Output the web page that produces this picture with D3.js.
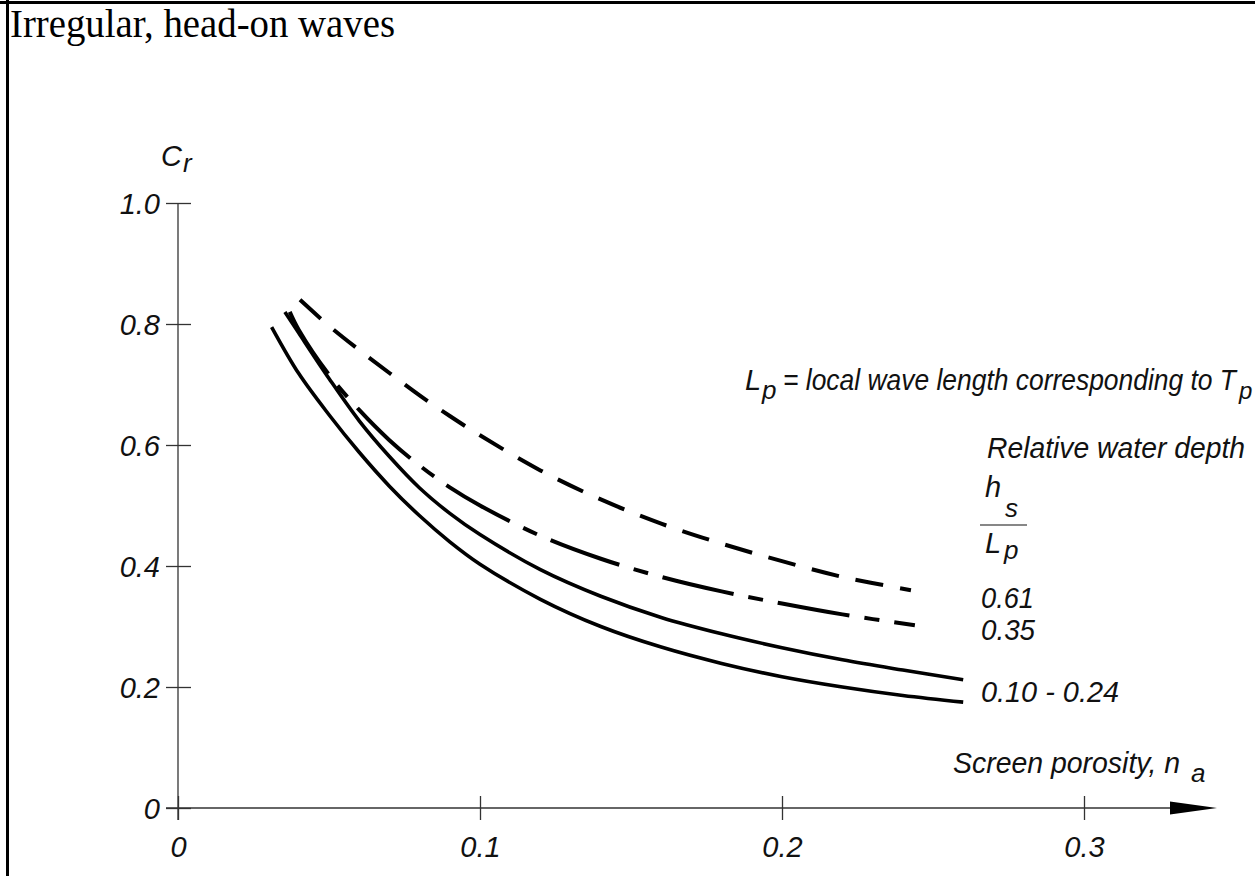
<!DOCTYPE html>
<html>
<head>
<meta charset="utf-8">
<script src="https://cdn.jsdelivr.net/npm/d3@7"></script>
<style>
  html, body { margin: 0; padding: 0; background: #fff; }
  svg { display: block; }
  .lab { font-family: "Liberation Sans", Arial, sans-serif; font-style: italic; fill: #111; }
</style>
</head>
<body>
<svg id="chart" width="1255" height="876"></svg>
<script>
// ---- data ----
const xTicks = [0, 0.1, 0.2, 0.3];
const xTickLabels = ["0", "0.1", "0.2", "0.3"];
const yTicks = [0, 0.2, 0.4, 0.6, 0.8, 1.0];
const yTickLabels = ["0", "0.2", "0.4", "0.6", "0.8", "1.0"];

// h_s/L_p = 0.10 - 0.24 (lower solid curve)
const nLow = [0.031, 0.04, 0.05, 0.06, 0.07, 0.08, 0.09, 0.10, 0.12, 0.14, 0.16, 0.18, 0.20, 0.22, 0.24, 0.26];
const cLow = [0.795, 0.718, 0.650, 0.588, 0.532, 0.483, 0.440, 0.403, 0.345, 0.300, 0.266, 0.239, 0.217, 0.200, 0.186, 0.175];
// h_s/L_p = 0.10 - 0.24 (upper solid curve)
const nHigh = [0.0354, 0.04, 0.05, 0.06, 0.07, 0.08, 0.09, 0.10, 0.12, 0.14, 0.16, 0.18, 0.20, 0.22, 0.24, 0.26];
const cHigh = [0.820, 0.785, 0.710, 0.640, 0.581, 0.529, 0.487, 0.452, 0.394, 0.350, 0.315, 0.288, 0.265, 0.245, 0.228, 0.212];
// h_s/L_p = 0.35 (dash-dot)
const n035 = [0.037, 0.04, 0.05, 0.06, 0.07, 0.08, 0.09, 0.10, 0.12, 0.14, 0.16, 0.18, 0.20, 0.22, 0.244];
const c035 = [0.820, 0.790, 0.716, 0.658, 0.608, 0.566, 0.530, 0.500, 0.450, 0.412, 0.382, 0.358, 0.338, 0.320, 0.302];
// h_s/L_p = 0.61 (dashed)
const n061 = [0.0404, 0.05, 0.06, 0.07, 0.08, 0.09, 0.10, 0.12, 0.14, 0.16, 0.18, 0.20, 0.22, 0.2427];
const c061 = [0.840, 0.797, 0.757, 0.719, 0.682, 0.648, 0.616, 0.558, 0.510, 0.470, 0.437, 0.408, 0.382, 0.360];

const seriesLabels = ["0.61", "0.35", "0.10 - 0.24"];

// ---- drawing ----
const svg = d3.select("#chart");
const x = d3.scaleLinear().domain([0, 0.3]).range([178, 1084]);
const y = d3.scaleLinear().domain([0, 1]).range([808, 203]);
const FF = "'Liberation Sans', Arial, sans-serif";

// frame
svg.append("line").attr("x1", 7.5).attr("x2", 7.5).attr("y1", 0).attr("y2", 876).attr("stroke", "#000").attr("stroke-width", 3);
svg.append("line").attr("x1", 0).attr("x2", 1255).attr("y1", 2.5).attr("y2", 2.5).attr("stroke", "#000").attr("stroke-width", 3);

// title
svg.append("text").attr("x", 10).attr("y", 37)
  .attr("font-family", "'Liberation Serif', 'Times New Roman', serif")
  .attr("font-size", 40).attr("fill", "#000")
  .attr("textLength", 385).attr("lengthAdjust", "spacingAndGlyphs")
  .text("Irregular, head-on waves");

// y axis
const yAxis = d3.axisLeft(y).tickValues(yTicks).tickSize(12).tickPadding(6)
  .tickFormat((d, i) => yTickLabels[i]);
const gy = svg.append("g").attr("transform", "translate(178,0)").call(yAxis);
gy.select(".domain").remove();
gy.selectAll(".tick line").attr("stroke", "#333").attr("stroke-width", 1.3).attr("x1", 13);
gy.selectAll(".tick text").attr("font-size", 29).attr("fill", "#111").attr("dy", "0.36em").attr("x", -18)
  .style("font-family", FF).style("font-style", "italic");
svg.append("line").attr("x1", 178).attr("x2", 178).attr("y1", y(1)).attr("y2", 820)
  .attr("stroke", "#333").attr("stroke-width", 1.3);

// x axis
const xAxis = d3.axisBottom(x).tickValues(xTicks).tickSize(12).tickPadding(16)
  .tickFormat((d, i) => xTickLabels[i]);
const gx = svg.append("g").attr("transform", "translate(0,808)").call(xAxis);
gx.select(".domain").remove();
gx.selectAll(".tick line").attr("stroke", "#333").attr("stroke-width", 1.3).attr("y1", -12);
gx.selectAll(".tick text").attr("font-size", 29).attr("fill", "#111")
  .style("font-family", FF).style("font-style", "italic");
svg.append("line").attr("x1", 166).attr("x2", 1172).attr("y1", 808).attr("y2", 808)
  .attr("stroke", "#333").attr("stroke-width", 1.3);
svg.append("path").attr("d", "M1170,801.5 L1217,808 L1170,814.5 Z").attr("fill", "#000");

// curves
const line = d3.line().x(d => x(d[0])).y(d => y(d[1])).curve(d3.curveCatmullRom.alpha(0.5));
const zip = (a, b) => a.map((v, i) => [v, b[i]]);
const curves = [
  { pts: zip(nLow, cLow), dash: null, w: 3.6 },
  { pts: zip(nHigh, cHigh), dash: null, w: 3.6 },
  { pts: zip(n035, c035), dash: "73,15,15,15", w: 4 },
  { pts: zip(n061, c061), dash: "28,17", w: 4 }
];
curves.forEach(c => {
  svg.append("path").attr("d", line(c.pts)).attr("fill", "none")
    .attr("stroke", "#000").attr("stroke-width", c.w)
    .attr("stroke-dasharray", c.dash);
});

// axis titles
const fs = 29;
const t1 = svg.append("text").attr("class", "lab").attr("font-size", fs).attr("x", 161).attr("y", 166);
t1.append("tspan").text("C");
t1.append("tspan").attr("x", 183).attr("y", 172).attr("font-size", 26).text("r");

const t2 = svg.append("text").attr("class", "lab").attr("font-size", fs).attr("x", 953).attr("y", 773);
t2.append("tspan").attr("textLength", 227).attr("lengthAdjust", "spacingAndGlyphs").text("Screen porosity, n");
t2.append("tspan").attr("x", 1191).attr("y", 782).attr("font-size", 26).text("a");

// legend texts
const t3 = svg.append("text").attr("class", "lab").attr("font-size", fs).attr("x", 745).attr("y", 390);
t3.append("tspan").text("L");
t3.append("tspan").attr("x", 762).attr("y", 399).attr("font-size", 26).text("p");
t3.append("tspan").attr("x", 783).attr("y", 390).attr("textLength", 453).attr("lengthAdjust", "spacingAndGlyphs")
  .text("= local wave length corresponding to T");
t3.append("tspan").attr("x", 1239).attr("y", 399).attr("font-size", 24).text("p");

svg.append("text").attr("class", "lab").attr("font-size", fs).attr("x", 987).attr("y", 458)
  .attr("textLength", 258).attr("lengthAdjust", "spacingAndGlyphs").text("Relative water depth");
const t4 = svg.append("text").attr("class", "lab").attr("font-size", fs).attr("x", 985).attr("y", 497);
t4.append("tspan").text("h");
t4.append("tspan").attr("x", 1005).attr("y", 517).attr("font-size", 26).text("s");
svg.append("line").attr("x1", 980).attr("x2", 1027).attr("y1", 525).attr("y2", 525).attr("stroke", "#111").attr("stroke-width", 1.2);
const t5 = svg.append("text").attr("class", "lab").attr("font-size", fs).attr("x", 985).attr("y", 553);
t5.append("tspan").text("L");
t5.append("tspan").attr("x", 1004).attr("y", 559).attr("font-size", 26).text("p");

const labY = [608, 640, 702];
const labW = [53, 54, 138];
seriesLabels.forEach((s, i) => {
  svg.append("text").attr("class", "lab").attr("font-size", fs).attr("x", 981).attr("y", labY[i])
    .attr("textLength", labW[i]).attr("lengthAdjust", "spacingAndGlyphs").text(s);
});
</script>
</body>
</html>
